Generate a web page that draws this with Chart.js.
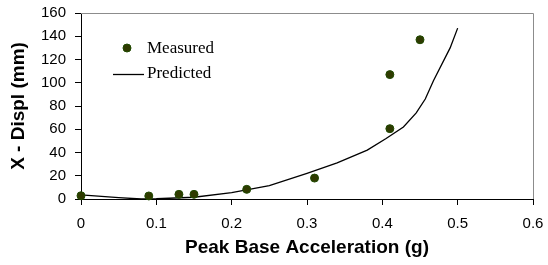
<!DOCTYPE html>
<html>
<head>
<meta charset="utf-8">
<script src="https://cdn.jsdelivr.net/npm/chart.js@4/dist/chart.umd.min.js"></script>
<style>
html,body{margin:0;padding:0;background:#fff;}
#wrap{width:548px;height:265px;position:relative;}
</style>
</head>
<body>
<div id="wrap"><canvas id="c" width="548" height="265"></canvas></div>
<script>
// Measured data (Peak Base Acceleration g, X displacement mm)
const measuredX = [0, 0.09, 0.13, 0.15, 0.22, 0.31, 0.41, 0.41, 0.45];
const measuredY = [2.8, 2.6, 4, 4, 8.3, 18, 60.5, 107, 137];
// Predicted curve
const predictedX = [0, 0.05, 0.08, 0.1, 0.15, 0.2, 0.25, 0.3, 0.34, 0.38, 0.405, 0.428, 0.445, 0.457, 0.468, 0.49, 0.5];
const predictedY = [3.5, 1.2, 0, 0.2, 1.5, 5.5, 11.5, 22, 31, 42, 52, 62, 74, 86, 102, 130, 147];
const xTicks = [0, 0.1, 0.2, 0.3, 0.4, 0.5, 0.6];
const yTicks = [0, 20, 40, 60, 80, 100, 120, 140, 160];
const seriesNames = ['Measured', 'Predicted'];
const xTitle = 'Peak Base Acceleration (g)';
const yTitle = 'X - Displ (mm)';

const measured = measuredX.map((x, i) => ({x, y: measuredY[i]}));
const predicted = predictedX.map((x, i) => ({x, y: predictedY[i]}));

const frame = {
  id: 'frame',
  beforeDatasetsDraw(chart) {
    const {ctx, chartArea: a} = chart;
    ctx.save();
    ctx.strokeStyle = '#8c8c8c';
    ctx.lineWidth = 1;
    ctx.beginPath();
    ctx.moveTo(a.left, a.top + 0.5);
    ctx.lineTo(a.right + 0.5, a.top + 0.5);
    ctx.lineTo(a.right + 0.5, a.bottom);
    ctx.stroke();
    ctx.restore();
  }
};

const legendBox = {
  id: 'legendBox',
  afterDraw(chart) {
    const {ctx, chartArea: a} = chart;
    const ds0 = chart.data.datasets[0];
    const ds1 = chart.data.datasets[1];
    ctx.save();
    ctx.font = '17px "Liberation Serif", "Times New Roman", serif';
    ctx.textBaseline = 'middle';
    ctx.fillStyle = '#000';
    const lx = a.left + 66;
    const y1 = a.top + 36, y2 = a.top + 61;
    // marker
    ctx.beginPath();
    ctx.arc(a.left + 46, y1 - 1, 4, 0, Math.PI * 2);
    ctx.fillStyle = ds0.backgroundColor;
    ctx.fill();
    ctx.strokeStyle = ds0.borderColor;
    ctx.lineWidth = 1;
    ctx.stroke();
    ctx.fillStyle = '#000';
    ctx.fillText(seriesNames[0], lx, y1);
    // line
    ctx.beginPath();
    ctx.moveTo(a.left + 32, y2 + 0.5);
    ctx.lineTo(a.left + 63, y2 + 0.5);
    ctx.strokeStyle = ds1.borderColor;
    ctx.lineWidth = ds1.borderWidth;
    ctx.stroke();
    ctx.fillText(seriesNames[1], lx, y2);
    ctx.restore();
  }
};

new Chart(document.getElementById('c'), {
  type: 'scatter',
  data: {
    datasets: [
      {
        label: seriesNames[0],
        data: measured,
        backgroundColor: '#2f3a00',
        borderColor: '#1f4a00',
        borderWidth: 1,
        pointRadius: 4,
        showLine: false,
        clip: false,
        order: 0
      },
      {
        label: seriesNames[1],
        data: predicted,
        type: 'line',
        borderColor: '#000',
        borderWidth: 1.3,
        pointRadius: 0,
        fill: false,
        tension: 0,
        clip: false,
        order: 1
      }
    ]
  },
  options: {
    responsive: false,
    animation: false,
    devicePixelRatio: 1,
    layout: {padding: {top: 13, right: 15, left: 0, bottom: 0}},
    plugins: {legend: {display: false}, tooltip: {enabled: false}},
    scales: {
      x: {
        type: 'linear',
        min: 0, max: 0.6,
        afterBuildTicks(scale) { scale.ticks = xTicks.map(v => ({value: v})); },
        afterFit(scale) { scale.height = 66; scale.paddingLeft = 0; scale.paddingRight = 0; },
        ticks: {
          color: '#000',
          font: {family: '"Liberation Sans", Arial, sans-serif', size: 15},
          padding: 10,
          maxRotation: 0,
          callback: v => String(v)
        },
        grid: {display: true, drawOnChartArea: false, drawTicks: true, tickLength: 6, color: '#000'},
        border: {display: true, color: '#000', width: 1},
        title: {
          display: true, text: xTitle, color: '#000',
          font: {family: '"Liberation Sans", Arial, sans-serif', size: 19, weight: 'bold'},
          padding: {top: 0, bottom: 6}
        }
      },
      y: {
        type: 'linear',
        min: 0, max: 160,
        afterBuildTicks(scale) { scale.ticks = yTicks.map(v => ({value: v})); },
        afterFit(scale) { scale.width = 81; scale.paddingTop = 0; scale.paddingBottom = 0; },
        ticks: {
          color: '#000',
          font: {family: '"Liberation Sans", Arial, sans-serif', size: 15},
          padding: 9
        },
        grid: {display: true, drawOnChartArea: false, drawTicks: true, tickLength: 6, color: '#000'},
        border: {display: true, color: '#000', width: 1},
        title: {
          display: true, text: yTitle, color: '#000',
          font: {family: '"Liberation Sans", Arial, sans-serif', size: 19, weight: 'bold'},
          padding: {top: 7, bottom: 0}
        }
      }
    }
  },
  plugins: [frame, legendBox]
});
</script>
</body>
</html>
